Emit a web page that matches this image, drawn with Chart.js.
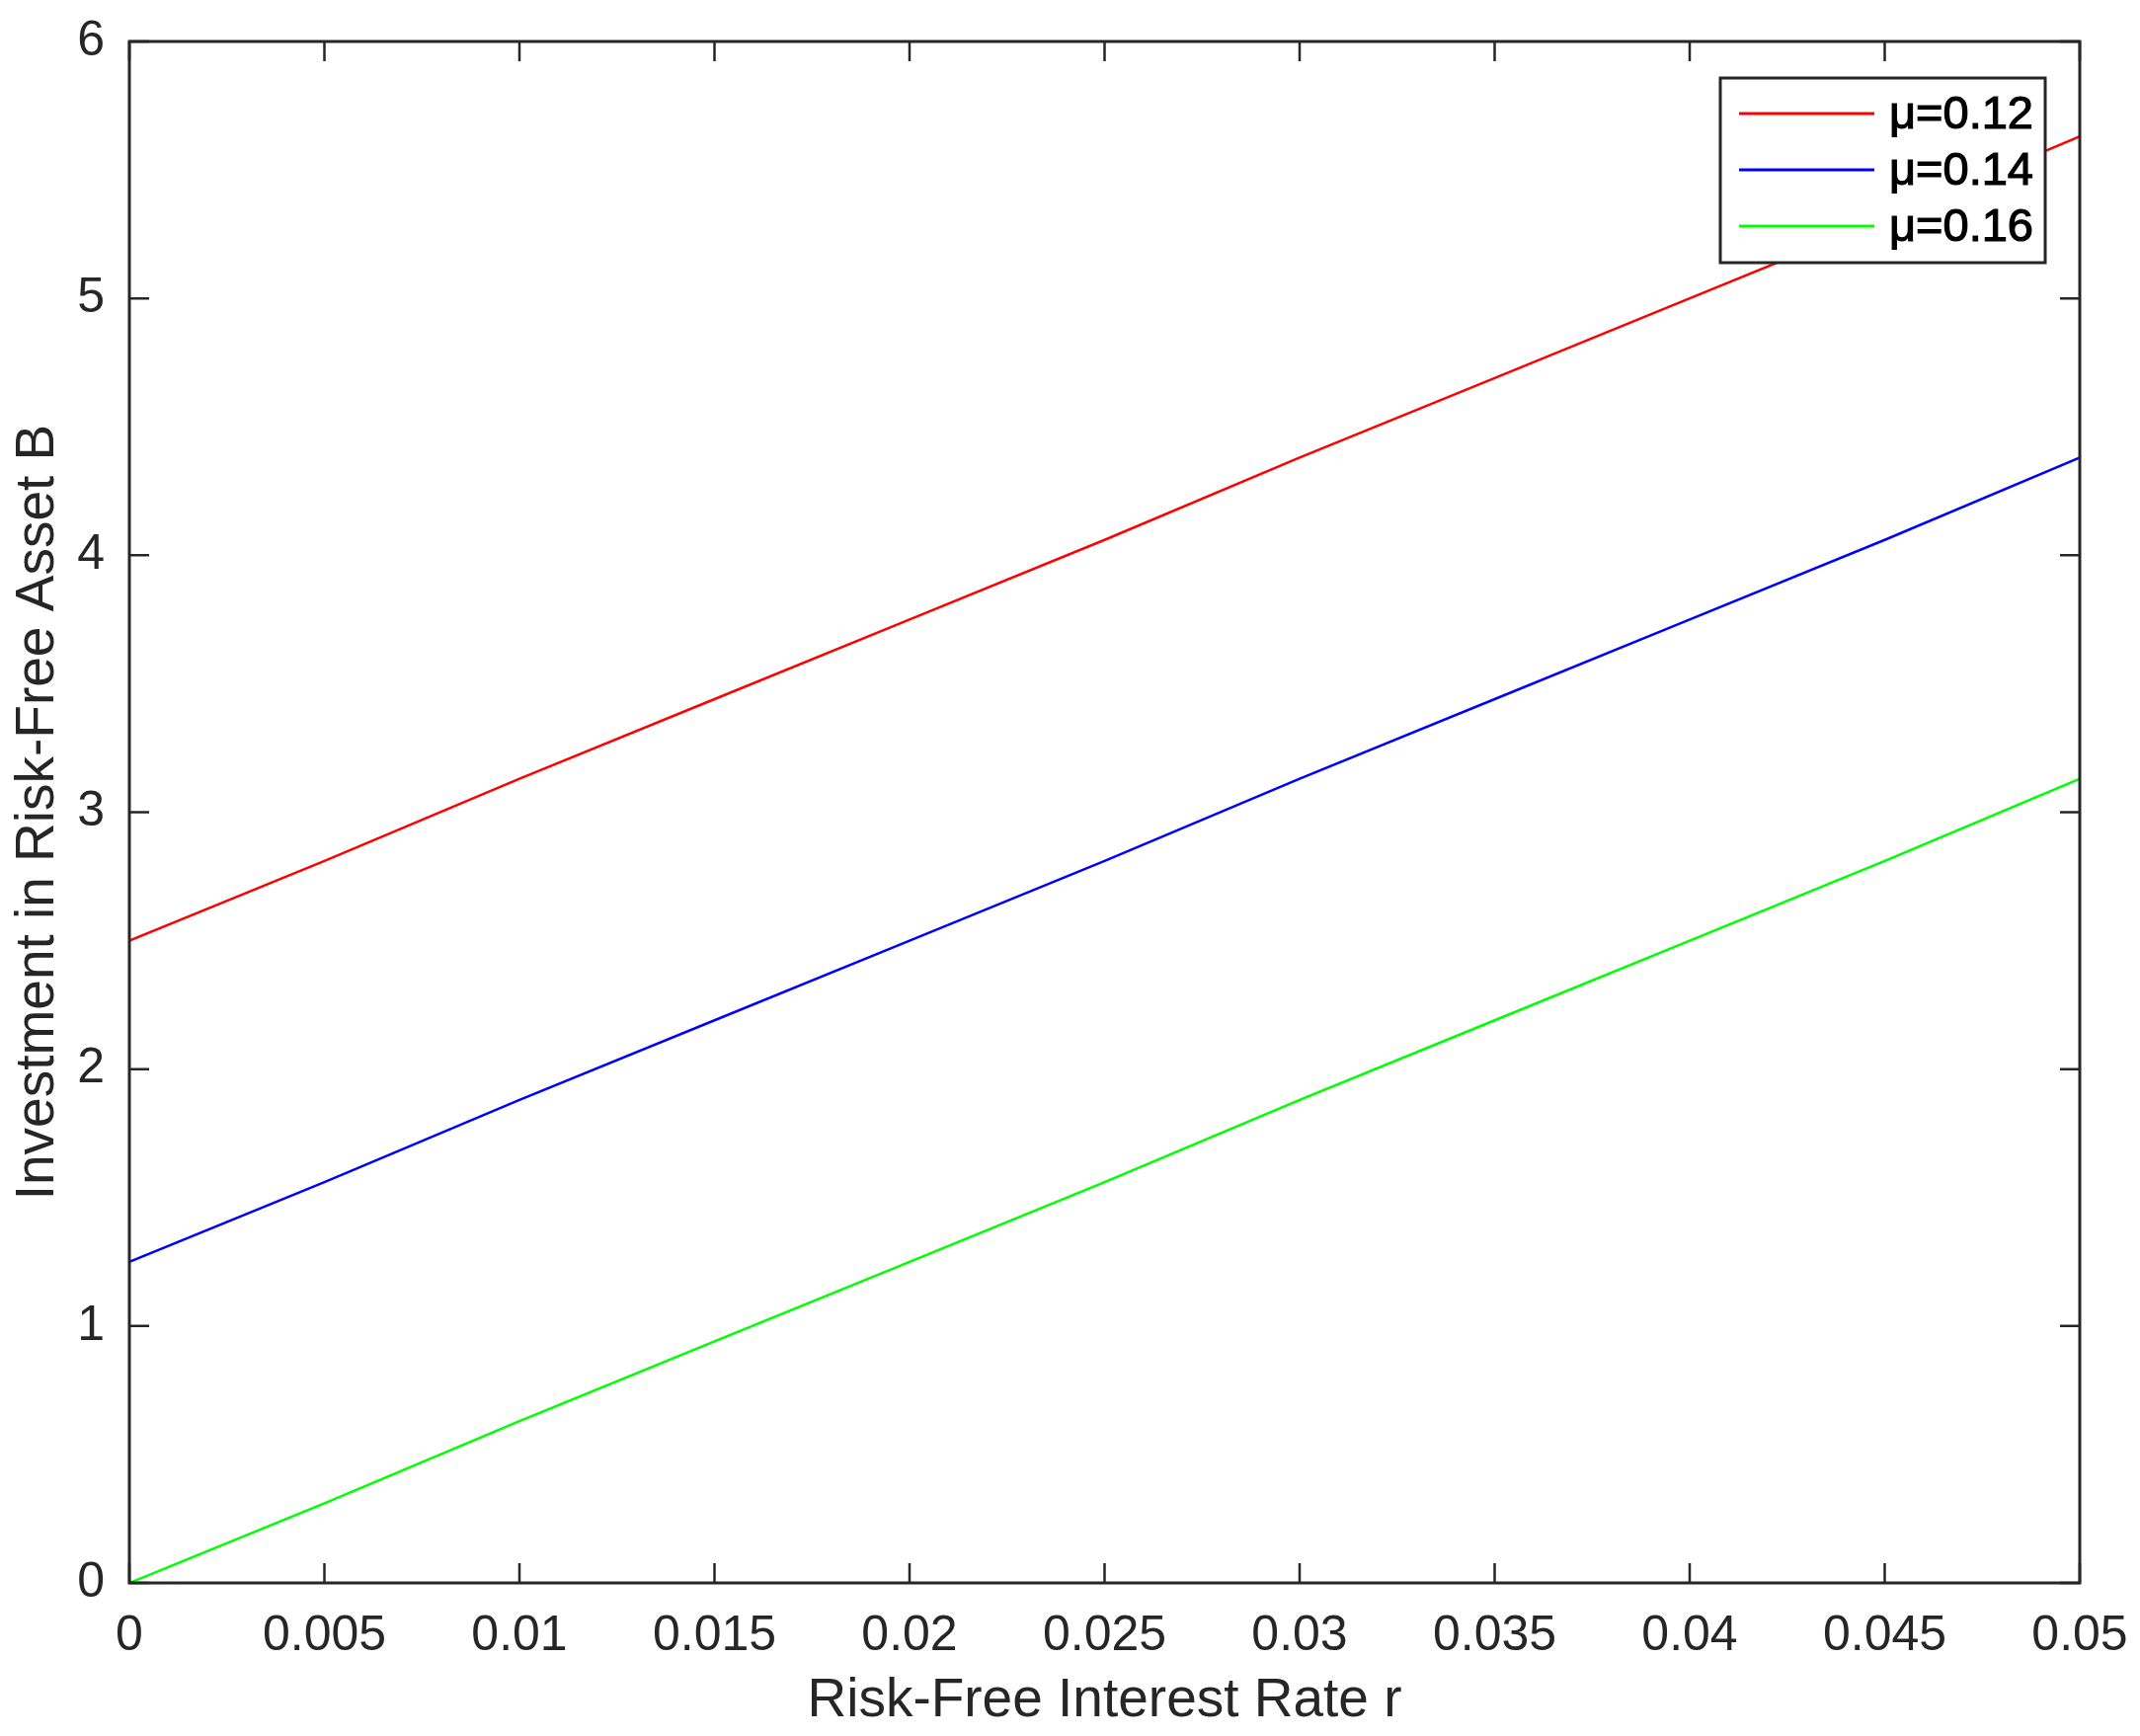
<!DOCTYPE html>
<html>
<head>
<meta charset="utf-8">
<title>Investment in Risk-Free Asset B</title>
<script src="https://cdn.jsdelivr.net/npm/chart.js@4"></script>
<style>
  html, body { margin: 0; padding: 0; background: #fff; }
  #wrap { width: 2167px; height: 1758px; }
</style>
</head>
<body>
<div id="wrap"><canvas id="chart" width="2167" height="1758"></canvas></div>
<script>
// risk-free rate r (x axis)
const rates = [0, 0.005, 0.01, 0.015, 0.02, 0.025, 0.03, 0.035, 0.04, 0.045, 0.05];

// investment B, one list per mu
const mu012 = [2.5, 2.81, 3.13, 3.44, 3.75, 4.06, 4.38, 4.69, 5.0, 5.31, 5.63];
const mu014 = [1.25, 1.56, 1.88, 2.19, 2.5, 2.81, 3.13, 3.44, 3.75, 4.06, 4.38];
const mu016 = [0, 0.31, 0.63, 0.94, 1.25, 1.56, 1.88, 2.19, 2.5, 2.81, 3.13];

const seriesLabels = ['μ=0.12', 'μ=0.14', 'μ=0.16'];

// tick values + labels
const xTicks = [0, 0.005, 0.01, 0.015, 0.02, 0.025, 0.03, 0.035, 0.04, 0.045, 0.05];
const xTickLabels = ['0', '0.005', '0.01', '0.015', '0.02', '0.025', '0.03', '0.035', '0.04', '0.045', '0.05'];
const yTicks = [0, 1, 2, 3, 4, 5, 6];
const yTickLabels = ['0', '1', '2', '3', '4', '5', '6'];

const AXIS = '#262626';
const FONT = "'Liberation Sans', Arial, Helvetica, sans-serif";

function pts(ys) {
  return rates.map((r, i) => ({ x: r, y: ys[i] }));
}

// box round the plot + inward ticks on all four sides (matlab look)
const boxTicks = {
  id: 'boxTicks',
  afterDatasetsDraw(chart) {
    const { ctx, chartArea: a, scales: { x, y } } = chart;
    const len = 20;
    ctx.save();
    ctx.strokeStyle = AXIS;
    ctx.lineWidth = 2.5;
    ctx.beginPath();
    xTicks.forEach(v => {
      const px = x.getPixelForValue(v);
      ctx.moveTo(px, a.bottom); ctx.lineTo(px, a.bottom - len);
      ctx.moveTo(px, a.top); ctx.lineTo(px, a.top + len);
    });
    yTicks.forEach(v => {
      const py = y.getPixelForValue(v);
      ctx.moveTo(a.left, py); ctx.lineTo(a.left + len, py);
      ctx.moveTo(a.right, py); ctx.lineTo(a.right - len, py);
    });
    ctx.stroke();
    ctx.lineWidth = 3;
    ctx.strokeRect(a.left, a.top, a.right - a.left, a.bottom - a.top);
    ctx.restore();
  }
};

// legend box in the top right corner of the plot
const boxLegend = {
  id: 'boxLegend',
  afterDraw(chart) {
    const { ctx, chartArea: a } = chart;
    const w = 329, h = 187;
    const lx = a.right - 35 - w, ly = a.top + 37;
    ctx.save();
    ctx.fillStyle = '#fff';
    ctx.fillRect(lx, ly, w, h);
    ctx.strokeStyle = AXIS;
    ctx.lineWidth = 3;
    ctx.strokeRect(lx, ly, w, h);
    ctx.font = `47px ${FONT}`;
    ctx.textBaseline = 'middle';
    ctx.textAlign = 'left';
    chart.data.datasets.forEach((ds, i) => {
      const cy = ly + 36 + i * 57;
      ctx.strokeStyle = ds.borderColor;
      ctx.lineWidth = 3;
      ctx.beginPath();
      ctx.moveTo(lx + 19, cy);
      ctx.lineTo(lx + 156, cy);
      ctx.stroke();
      // legend text is a bit heavier than the axis text in the original
      ctx.fillStyle = '#000';
      ctx.strokeStyle = '#000';
      ctx.lineWidth = 1.2;
      ctx.fillText(ds.label, lx + 171, cy + 2);
      ctx.strokeText(ds.label, lx + 171, cy + 2);
    });
    ctx.restore();
  }
};

new Chart(document.getElementById('chart'), {
  type: 'scatter',
  data: {
    datasets: [
      { label: seriesLabels[0], data: pts(mu012), borderColor: '#ff0000' },
      { label: seriesLabels[1], data: pts(mu014), borderColor: '#0000ff' },
      { label: seriesLabels[2], data: pts(mu016), borderColor: '#00ff00' }
    ].map(d => Object.assign(d, {
      showLine: true, borderWidth: 2.5, pointRadius: 0, fill: false, tension: 0
    }))
  },
  options: {
    responsive: false,
    animation: false,
    devicePixelRatio: 1,
    layout: { padding: { top: 42, right: 61, bottom: 0, left: 0 } },
    plugins: { legend: { display: false }, tooltip: { enabled: false } },
    scales: {
      x: {
        type: 'linear',
        min: 0, max: 0.05,
        grid: { display: false, drawTicks: false },
        border: { display: false },
        afterFit(s) { s.height = 155; s.paddingLeft = 0; s.paddingRight = 0; },
        afterBuildTicks(s) { s.ticks = xTicks.map(v => ({ value: v })); },
        ticks: {
          color: AXIS, padding: 24, maxRotation: 0, autoSkip: false,
          font: { family: FONT, size: 50 },
          callback: (v, i) => xTickLabels[i]
        },
        title: {
          display: true, text: 'Risk-Free Interest Rate r', color: AXIS,
          font: { family: FONT, size: 55 }, padding: { top: 0, bottom: 2 }
        }
      },
      y: {
        type: 'linear',
        min: 0, max: 6,
        grid: { display: false, drawTicks: false },
        border: { display: false },
        afterFit(s) { s.width = 131; s.paddingTop = 0; s.paddingBottom = 0; },
        afterBuildTicks(s) { s.ticks = yTicks.map(v => ({ value: v })); },
        ticks: {
          color: AXIS, padding: 25, autoSkip: false,
          font: { family: FONT, size: 50 },
          callback: (v, i) => yTickLabels[i]
        },
        title: {
          display: true, text: 'Investment in Risk-Free Asset B', color: AXIS,
          font: { family: FONT, size: 55 }, padding: { top: 6, bottom: 0 }
        }
      }
    }
  },
  plugins: [boxTicks, boxLegend]
});
</script>
</body>
</html>
